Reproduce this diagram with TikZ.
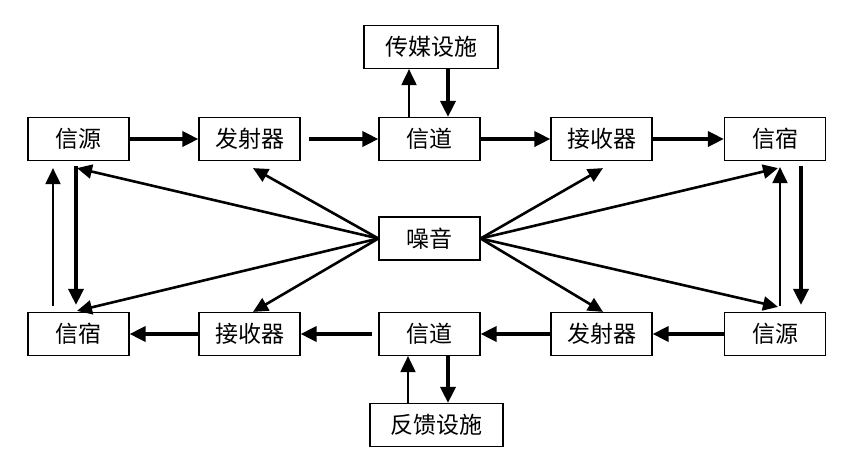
\documentclass[tikz,border=0pt]{standalone}
\usepackage{fontspec}
\newfontfamily\cjk{Noto Sans CJK SC}
\usetikzlibrary{arrows.meta}
\begin{document}
\begin{tikzpicture}[x=1pt,y=-1pt,
 box/.style={draw,line width=1.2pt,minimum width=101pt,minimum height=43pt,inner sep=0pt,font=\cjk\fontsize{23}{23}\selectfont},
 thk/.style={line width=3.6pt,-{Triangle[length=16pt,width=15pt]}},
 thn/.style={line width=2pt,-{Triangle[length=16pt,width=15pt]}},
 nz/.style={line width=2.6pt,line cap=round,-{Triangle[length=15pt,width=14pt]}}]
\useasboundingbox (0,0) rectangle (865,464);
% top row
\node[box] (s1) at (78.5,139) {信源};
\node[box] (t1) at (249.5,139) {发射器};
\node[box] (c1) at (429.5,139) {信道};
\node[box] (r1) at (601.5,139) {接收器};
\node[box] (d1) at (775,139) {信宿};
\node[box,minimum width=134pt] (cm) at (431,47) {传媒设施};
% noise
\node[box] (n) at (429.5,238.5) {噪音};
% bottom row
\node[box] (d2) at (78.5,334) {信宿};
\node[box] (r2) at (249.5,334) {接收器};
\node[box] (c2) at (429.5,334) {信道};
\node[box] (t2) at (601.5,334) {发射器};
\node[box] (s2) at (775,334) {信源};
\node[box,minimum width=133pt] (fb) at (436.5,425) {反馈设施};
% top horizontal
\draw[thk] (s1.east) -- (t1.west);
\draw[thk] ([xshift=8pt]t1.east) -- (c1.west);
\draw[thk] (c1.east) -- (r1.west);
\draw[thk] (r1.east) -- (d1.west);
% media
\draw[thn] ([xshift=-20.5pt]c1.north) -- ([xshift=-22pt]cm.south);
\draw[thk] ([xshift=17pt]cm.south) -- ([xshift=18.5pt]c1.north);
% left verticals
\draw[thn] ([xshift=-25.5pt,yshift=6pt]d2.north) -- ([xshift=-25.5pt,yshift=-7pt]s1.south);
\draw[thk] ([xshift=-2.5pt,yshift=-5pt]s1.south) -- ([xshift=-2.5pt,yshift=7pt]d2.north);
% right verticals
\draw[thn] ([xshift=5pt,yshift=6pt]s2.north) -- ([xshift=5pt,yshift=-6pt]d1.south);
\draw[thk] ([xshift=26pt,yshift=-5pt]d1.south) -- ([xshift=26pt,yshift=7pt]s2.north);
% noise
\draw[nz] (n.west) -- ([xshift=-1.5pt,yshift=-7pt]s1.south);
\draw[nz] (n.west) -- ([xshift=3.5pt,yshift=-7pt]t1.south);
\draw[nz] (n.west) -- ([xshift=-1.5pt,yshift=1pt]d2.north);
\draw[nz] (n.west) -- ([xshift=3.5pt]r2.north);
\draw[nz] (n.east) -- ([xshift=1.5pt,yshift=-7pt]r1.south);
\draw[nz] (n.east) -- ([xshift=3pt,yshift=-7pt]d1.south);
\draw[nz] (n.east) -- ([xshift=1.5pt]t2.north);
\draw[nz] (n.east) -- ([xshift=3pt,yshift=5pt]s2.north);
% bottom horizontal
\draw[thk] (r2.west) -- (d2.east);
\draw[thk] ([xshift=-6pt]c2.west) -- (r2.east);
\draw[thk] (t2.west) -- (c2.east);
\draw[thk] (s2.west) -- (t2.east);
% feedback
\draw[thn] ([xshift=-28.5pt]fb.north) -- ([xshift=-21.5pt]c2.south);
\draw[thk] ([xshift=18.5pt]c2.south) -- ([xshift=11.5pt]fb.north);
\end{tikzpicture}
\end{document}
